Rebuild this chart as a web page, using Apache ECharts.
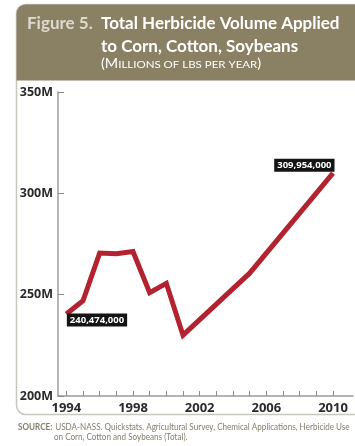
<!DOCTYPE html>
<html><head><meta charset="utf-8">
<script src="https://cdn.jsdelivr.net/npm/echarts@6/dist/echarts.min.js"></script>
<style>html,body{margin:0;padding:0;background:#fff}#c{width:355px;height:446px}</style>
</head><body><div id="c"></div>
<script>
const years = [1994,1995,1996,1997,1998,1999,2000,2001,2005,2010];
const volumes = [240474000,247000000,270500000,270200000,271300000,251000000,255600000,230000000,260600000,309954000];
const xTickYears = [1994,1995,1996,1997,1998,1999,2000,2001,2002,2003,2004,2005,2006,2007,2008,2009,2010];
const xLabelYears = [1994,1998,2002,2006,2010];
const titleLine1a = 'Figure 5.';
const titleLine1b = 'Total Herbicide Volume Applied';
const titleLine2 = 'to Corn, Cotton, Soybeans';
const sourceLine1 = 'USDA-NASS. Quickstats. Agricultural Survey, Chemical Applications, Herbicide Use';
const sourceLine2 = 'on Corn, Cotton and Soybeans (Total).';

const fmt = v => v.toLocaleString('en-US');
const data = years.map((y,i)=>{
  const d = {value:[y, volumes[i]]};
  if (i===0) d.label = {show:true, position:[1,0], align:'left', verticalAlign:'top'};
  if (i===years.length-1) d.label = {show:true, position:[2,-1], align:'right', verticalAlign:'bottom'};
  return d;
});
const chart = echarts.init(document.getElementById('c'));
const HF = 'Lato, "Open Sans", sans-serif';
const SRC = '#867c6b';
chart.setOption({
  animation:false,
  graphic:[
    {type:'rect', z:-10, shape:{x:16.5,y:4.5,width:360,height:410,r:[9,0,0,9]}, style:{fill:'#fff',stroke:'#c9c6bd',lineWidth:1.5}},
    {type:'rect', z:-9, shape:{x:16.5,y:4.5,width:360,height:76,r:[9,0,0,0]}, style:{fill:'#8a8064'}},
    {type:'text', z:10, style:{x:27,y:15,text:titleLine1a,fill:'#dedad0',font:'bold 17px '+HF}},
    {type:'text', z:10, style:{x:101,y:15,text:titleLine1b,fill:'#ffffff',font:'bold 17px '+HF}},
    {type:'text', z:10, style:{x:101,y:38,text:titleLine2,fill:'#ffffff',font:'bold 17px '+HF}},
    {type:'text', z:10, x:101, y:57, scaleX:1.15, style:{x:0,y:0,text:'{b|(M}{s|ILLIONS OF LBS PER YEAR}{b|)}',
      rich:{b:{fill:'#ffffff',fontSize:12.5,fontFamily:HF,verticalAlign:'bottom'},s:{fill:'#ffffff',fontSize:10,fontFamily:HF,verticalAlign:'bottom'}}}},
    {type:'text', z:10, x:18, y:421, scaleX:0.9, style:{x:0,y:0,text:'{k|SOURCE:} {t|'+sourceLine1+'}',
      rich:{k:{fill:SRC,fontSize:9,fontWeight:'bold',fontFamily:HF},t:{fill:SRC,fontSize:9,fontFamily:HF}}}},
    {type:'text', z:10, x:54, y:433, scaleX:0.9, style:{x:0,y:0,text:sourceLine2,fill:SRC,fontSize:9,fontFamily:HF}}
  ],
  grid:{left:58, right:2, top:92, bottom:50, containLabel:false},
  xAxis:{type:'value', min:1993.5, max:2011.2,
    axisLine:{show:true, lineStyle:{color:'#9c9c9c', width:1.5}},
    axisTick:{show:true, inside:true, length:5, customValues:xTickYears, lineStyle:{color:'#8a8a8a', width:1}},
    axisLabel:{customValues:xLabelYears, formatter:v=>String(v), color:'#2a2a2a', fontWeight:'bold', fontSize:13, fontFamily:'"Open Sans", sans-serif', margin:6},
    splitLine:{show:false}},
  yAxis:{type:'value', min:200000000, max:350000000, interval:50000000,
    axisLine:{show:true, lineStyle:{color:'#9c9c9c', width:1.5}},
    axisTick:{show:true, inside:true, length:6, lineStyle:{color:'#8a8a8a', width:1}},
    axisLabel:{formatter:v=>(v/1e6)+'M', color:'#2a2a2a', fontWeight:'bold', fontSize:12.5, fontFamily:'"Open Sans", sans-serif', margin:5},
    splitLine:{show:false}},
  series:[{type:'line', data:data, symbol:'circle', symbolSize:1, showSymbol:true,
    itemStyle:{color:'rgba(0,0,0,0)'},
    lineStyle:{color:'#b2232f', width:5, join:'miter'},
    label:{show:false, formatter:p=>fmt(p.value[1]), backgroundColor:'#141414', color:'#fff', fontWeight:'bold', fontSize:9.5, fontFamily:'"Open Sans", sans-serif', padding:[2,3,1,3]},
    emphasis:{disabled:true}}]
});
</script></body></html>
